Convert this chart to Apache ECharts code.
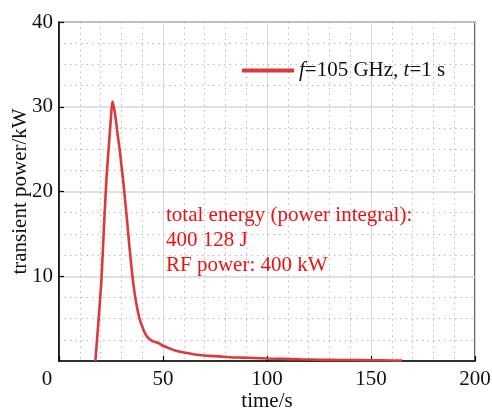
<!DOCTYPE html>
<html>
<head>
<meta charset="utf-8">
<title>transient power</title>
<script src="https://cdn.jsdelivr.net/npm/echarts@6/dist/echarts.min.js"></script>
<style>
  html, body { margin: 0; padding: 0; background: #fff; }
  #chart { width: 492px; height: 409px; }
</style>
</head>
<body>
<div id="chart"></div>
<script>
// values
const timeS = [17.5, 18.5, 19.5, 20.4, 21.5, 22.8, 24, 25, 25.7, 26.4, 27.3, 28.2, 29.2, 30, 30.8, 31.8,
  32.8, 33.8, 34.8, 35.6, 36.8, 37.8, 38.8, 40, 41.1, 42.3, 43.5, 45, 47.5, 50, 53, 56.3, 60, 63.5,
  67.5, 72, 77, 82, 88, 94, 100, 108, 116, 125, 135, 145, 155, 165];
const powerKW = [0, 3.2, 6.4, 9.6, 15.2, 21.4, 25.5, 28.8, 30.6, 29.9, 28.5, 26.7, 24.9, 23.1, 21.4, 18.9,
  16.4, 13.6, 11.2, 9.4, 7.3, 6.0, 4.9, 4.1, 3.4, 2.9, 2.6, 2.35, 2.15, 1.8, 1.5, 1.2, 1.0, 0.85,
  0.7, 0.6, 0.55, 0.45, 0.4, 0.35, 0.3, 0.25, 0.2, 0.15, 0.12, 0.1, 0.08, 0.05];
const seriesName = 'f=105 GHz, t=1 s';
const noteLines = ['total energy (power integral):', '400 128 J', 'RF power: 400 kW'];

const font = '"Liberation Serif", "Times New Roman", serif';
const lineColor = '#db3a3c';

const chart = echarts.init(document.getElementById('chart'));

const majorLine = { show: true, lineStyle: { color: '#d6d6d6', width: 1.5 } };
const minorLine = { show: true, lineStyle: { color: '#bdbdbd', width: 1, type: [1.5, 4] } };

chart.setOption({
  animation: false,
  grid: {
    left: 59, right: 17, top: 22, bottom: 48,
    outerBoundsMode: 'none',
    containLabel: false,
    show: true, borderColor: '#000', borderWidth: 1.2
  },
  legend: {
    left: 237, top: 55,
    icon: 'rect',
    itemWidth: 52, itemHeight: 4,
    itemGap: 6,
    data: [seriesName],
    formatter: () => '{i|f}=105 GHz, {i|t}=1 s',
    textStyle: {
      fontFamily: font, fontSize: 21, color: '#111',
      rich: {
        i: { fontFamily: font, fontSize: 21, fontStyle: 'italic', color: '#111' }
      }
    }
  },
  xAxis: {
    type: 'value',
    min: 0, max: 200, interval: 50,
    name: 'time/s',
    nameLocation: 'middle',
    nameGap: 30,
    nameMoveOverlap: false,
    nameTextStyle: { fontFamily: font, fontSize: 21, color: '#111' },
    axisLine: { onZero: false, lineStyle: { color: '#000', width: 1.5 } },
    axisTick: { show: true, inside: true, length: 5, lineStyle: { color: '#000', width: 1.2 } },
    axisLabel: {
      fontFamily: font, fontSize: 21, color: '#111', margin: 8,
      formatter: v => (v === 0 ? '{z|0}' : String(v)),
      rich: { z: { fontFamily: font, fontSize: 21, color: '#111', padding: [0, 24, 0, 0] } }
    },
    splitLine: { show: true, lineStyle: { color: '#d6d6d6', width: 1 } },
    minorTick: { show: false, splitNumber: 5 },
    minorSplitLine: minorLine
  },
  yAxis: {
    type: 'value',
    min: 0, max: 40, interval: 10,
    name: 'transient power/kW',
    nameLocation: 'middle',
    nameGap: 28,
    nameMoveOverlap: false,
    nameTextStyle: { fontFamily: font, fontSize: 21, color: '#111' },
    axisLine: { show: true, lineStyle: { color: '#000', width: 1.5 } },
    axisTick: { show: true, inside: true, length: 5, lineStyle: { color: '#000', width: 1.2 } },
    axisLabel: { fontFamily: font, fontSize: 21, color: '#111', margin: 6, showMinLabel: false },
    splitLine: majorLine,
    minorTick: { show: false, splitNumber: 4 },
    minorSplitLine: minorLine
  },
  graphic: [{
    type: 'text',
    left: 166, top: 203,
    z: 100,
    style: {
      text: noteLines.join('\n'),
      fontFamily: font, fontSize: 21, lineHeight: 25,
      fill: '#f01010'
    }
  }],
  series: [{
    name: seriesName,
    type: 'line',
    symbol: 'none',
    smooth: 0.3,
    color: lineColor,
    lineStyle: { color: lineColor, width: 2.6 },
    data: timeS.map((t, i) => [t, powerKW[i]])
  }]
});
</script>
</body>
</html>
